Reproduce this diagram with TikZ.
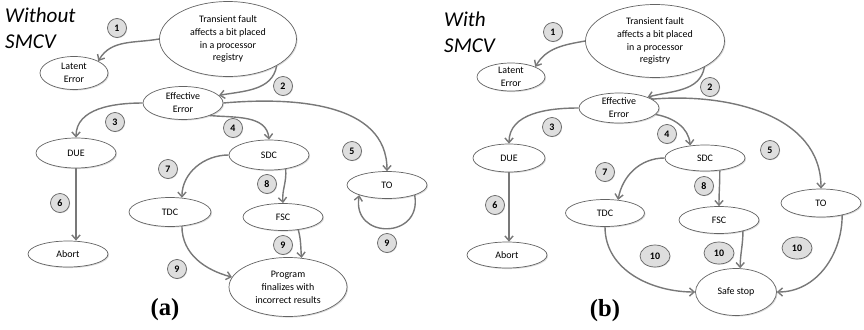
\documentclass[tikz,border=0pt]{standalone}
\usepackage{fontspec}
\setmainfont{Carlito}
\newfontfamily\labfont{Liberation Serif}
\usetikzlibrary{shapes.geometric, arrows.meta, shadows}
\definecolor{edgegray}{RGB}{120,120,120}
\definecolor{rimgray}{RGB}{100,100,100}
\definecolor{numfill}{RGB}{222,222,222}

\begin{document}
\begin{tikzpicture}[x=0.03cm, y=-0.03cm,
  state/.style={ellipse, draw=rimgray, fill=white, line width=0.6pt, inner sep=0pt, align=center,
    font=\fontsize{8.5}{11}\selectfont, drop shadow={shadow xshift=0.9pt, shadow yshift=-0.9pt, opacity=0.3}},
  sz/.style 2 args={minimum width=#1*0.03cm, minimum height=#2*0.03cm},
  num/.style={circle, draw=rimgray, fill=numfill, line width=0.6pt, inner sep=0pt, minimum size=0.57cm,
    font=\fontsize{8.5}{9}\bfseries, drop shadow={shadow xshift=0.6pt, shadow yshift=-0.6pt, opacity=0.3}},
  numwide/.style={num, ellipse, minimum width=0.9cm, minimum height=0.66cm},
  edge/.style={draw=edgegray, line width=1.2pt, -{Straight Barb[length=4pt, width=7pt]}},
  title/.style={anchor=north west, align=left, inner sep=0pt, font=\fontsize{18}{22}\itshape},
  caption/.style={font=\labfont\fontsize{21}{23}\bfseries}]

\useasboundingbox (0,0) rectangle (864,329);

% (a) without SMCV
\node [title] (titleA) at (5,8) {Without\\SMCV};

\node [state, sz={137}{75}] (tf) at (228,39) {Transient fault\\affects a bit placed\\in a processor\\registry};
\node [state, sz={68}{33}] (latent) at (74,73) {Latent\\Error};
\node [state, sz={80}{33}] (eff) at (183,103) {Effective\\Error};
\node [state, sz={80}{30}] (due) at (76,153) {DUE};
\node [state, sz={80}{30}] (sdc) at (269,155) {SDC};
\node [state, sz={80}{27}] (to) at (387,185) {TO};
\node [state, sz={82}{29}] (tdc) at (170,212) {TDC};
\node [state, sz={80}{27}] (fsc) at (283,217) {FSC};
\node [state, sz={80}{26}] (abort) at (68,254) {Abort};
\node [state, sz={118}{59}] (prog) at (288,287) {Program\\finalizes with\\incorrect results};

\draw [edge] (tf.west) to [out=190, in=60] (latent.north east);
\draw [edge] (tf.south east) to [out=-100, in=10] (eff.12);
\draw [edge] (eff.west) to [out=180, in=90] (due.north);
\draw [edge] (eff.-25) to [out=-5, in=95] (sdc.north);
\draw [edge] (eff.east) to [out=5, in=90] (to.north);
\draw [edge] (sdc.west) to [out=180, in=90] (tdc.50);
\draw [edge] (sdc.-40) to [out=-85, in=95] (fsc.north);
\draw [edge] (due.south) -- (due.south |- abort.north);
\draw [edge] (tdc.-50) to [out=-90, in=165] (prog.170);
\draw [edge] (fsc.-40) to [out=-75, in=95] (prog.65);
\draw [edge] (to.-20) to [out=-80, in=-100, looseness=2.1] (to.-160);

\node [num] (a1) at (117,28) {1};
\node [num] (a2) at (283,86) {2};
\node [num] (a3) at (115,122) {3};
\node [num] (a4) at (233,128) {4};
\node [num] (a5) at (352,151) {5};
\node [num] (a6) at (60,203) {6};
\node [num] (a7) at (168,169) {7};
\node [num] (a8) at (267,184) {8};
\node [num] (a9) at (283,245) {9};
\node [num] (a9b) at (177,269) {9};
\node [num] (a9c) at (387,243) {9};

\node [caption] (capA) at (165,310) {(a)};

% (b) with SMCV
\node [title] (titleB) at (444,12) {With\\SMCV};

\node [state, sz={139}{73}] (tfB) at (655,41) {Transient fault\\affects a bit placed\\in a processor\\registry};
\node [state, sz={68}{28}] (latentB) at (511,77) {Latent\\Error};
\node [state, sz={80}{30}] (effB) at (619,108) {Effective\\Error};
\node [state, sz={72}{28}] (dueB) at (509,158) {DUE};
\node [state, sz={80}{26}] (sdcB) at (705,158) {SDC};
\node [state, sz={80}{28}] (toB) at (821,203) {TO};
\node [state, sz={79}{27}] (tdcB) at (605,213) {TDC};
\node [state, sz={80}{27}] (fscB) at (719,220) {FSC};
\node [state, sz={80}{26}] (abortB) at (507,255) {Abort};
\node [state, sz={81}{47}] (safe) at (736,292) {Safe stop};

\draw [edge] (tfB.west) to [out=190, in=60] (latentB.north east);
\draw [edge] (tfB.south east) to [out=-100, in=15] (effB.north east);
\draw [edge] (effB.west) to [out=180, in=90] (dueB.north);
\draw [edge] (effB.-10) to [out=-10, in=95] (sdcB.140);
\draw [edge] (effB.15) to [out=5, in=90] (toB.north);
\draw [edge] (sdcB.west) to [out=180, in=80] (tdcB.45);
\draw [edge] (sdcB.-40) to [out=-90, in=90] (fscB.north);
\draw [edge] (dueB.south) -- (dueB.south |- abortB.north);
\draw [edge] (tdcB.south) to [out=-90, in=180] (safe.west);
\draw [edge] (fscB.-25) to [out=-90, in=90] (safe.80);
\draw [edge] (toB.-30) to [out=-90, in=0] (safe.east);

\node [num] (b1) at (553,32) {1};
\node [num] (b2) at (710,87) {2};
\node [num] (b3) at (552,127) {3};
\node [num] (b4) at (667,134) {4};
\node [num] (b5) at (770,150) {5};
\node [num] (b6) at (495,205) {6};
\node [num] (b7) at (605,172) {7};
\node [num] (b8) at (704,186) {8};
\node [numwide] (b10) at (655,256) {10};
\node [numwide] (b10b) at (719,253) {10};
\node [numwide] (b10c) at (797,248) {10};

\node [caption] (capB) at (605,311) {(b)};

\end{tikzpicture}
\end{document}
